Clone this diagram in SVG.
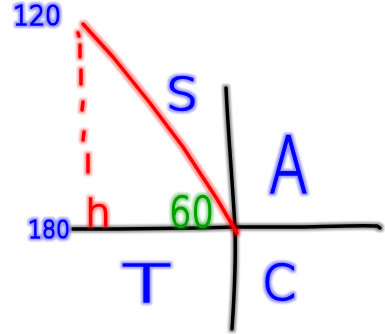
<svg xmlns="http://www.w3.org/2000/svg" width="385" height="334" viewBox="0 0 385 334">
<defs>
<filter id="glow" filterUnits="userSpaceOnUse" x="0" y="0" width="385" height="334">
<feMorphology operator="dilate" radius="2" in="SourceGraphic" result="d"/>
<feGaussianBlur in="d" stdDeviation="0.8" result="b"/>
<feComponentTransfer in="b" result="f"><feFuncA type="linear" slope="0.4"/></feComponentTransfer>
<feMerge><feMergeNode in="f"/><feMergeNode in="SourceGraphic"/></feMerge>
</filter>
<style>
.ln{fill:none;stroke-linecap:round;stroke-linejoin:round;stroke-width:3.5;filter:url(#glow)}
.k{stroke:#000}
.r{stroke:#ff0000}
.t{font-family:"DejaVu Sans",sans-serif;font-weight:200;filter:url(#glow);stroke-width:1.5;stroke-linejoin:round}
.b{fill:#0000ff;stroke:#0000ff}
.rt{fill:#ff0000;stroke:#ff0000}
.g{fill:#00a000;stroke:#00a000}
</style>
</defs>
<rect width="385" height="334" fill="#fff"/>
<g id="connectors">
<path class="ln k" d="M73,229 C150,229 200,228 235,227 L300,227 C340,226 365,225 377,226 L380,228"/>
<path class="ln k" d="M226,88 C228,130 233,190 235,228 C236,260 234,300 232,329"/>
<path class="ln r" d="M83,24 L113,57 L150,103 L183,147 L217,199 L237,233"/>
<g id="dashes">
<path class="ln r" d="M78,33 L79,36"/>
<path class="ln r" d="M80,45 L80,57"/>
<path class="ln r" d="M81,70 L81,84"/>
<path class="ln r" d="M83,102 L82,110"/>
<path class="ln r" d="M84,132 L83,140"/>
<path class="ln r" d="M88,155 L88,172"/>
</g>
</g>
<g id="label-120"><text class="t b" x="13" y="25" font-size="27" textLength="48" lengthAdjust="spacingAndGlyphs">120</text></g>
<g id="label-180"><text class="t b" x="28" y="238" font-size="24" textLength="42" lengthAdjust="spacingAndGlyphs">180</text></g>
<g id="label-S"><text class="t b" x="166" y="110" font-size="44" textLength="32" lengthAdjust="spacingAndGlyphs">S</text></g>
<g id="label-A"><text class="t b" x="269" y="193" font-size="78" textLength="39" lengthAdjust="spacingAndGlyphs">A</text></g>
<g id="label-h"><text class="t rt" x="85" y="226" font-size="38" textLength="26" lengthAdjust="spacingAndGlyphs">h</text></g>
<g id="label-60"><text class="t g" x="169" y="227" font-size="43" textLength="45" lengthAdjust="spacingAndGlyphs">60</text></g>
<g id="label-T"><text class="t b" x="122" y="302" font-size="51" textLength="49" lengthAdjust="spacingAndGlyphs">T</text></g>
<g id="label-C"><text class="t b" x="262" y="300" font-size="49" textLength="34" lengthAdjust="spacingAndGlyphs">C</text></g>
</svg>
